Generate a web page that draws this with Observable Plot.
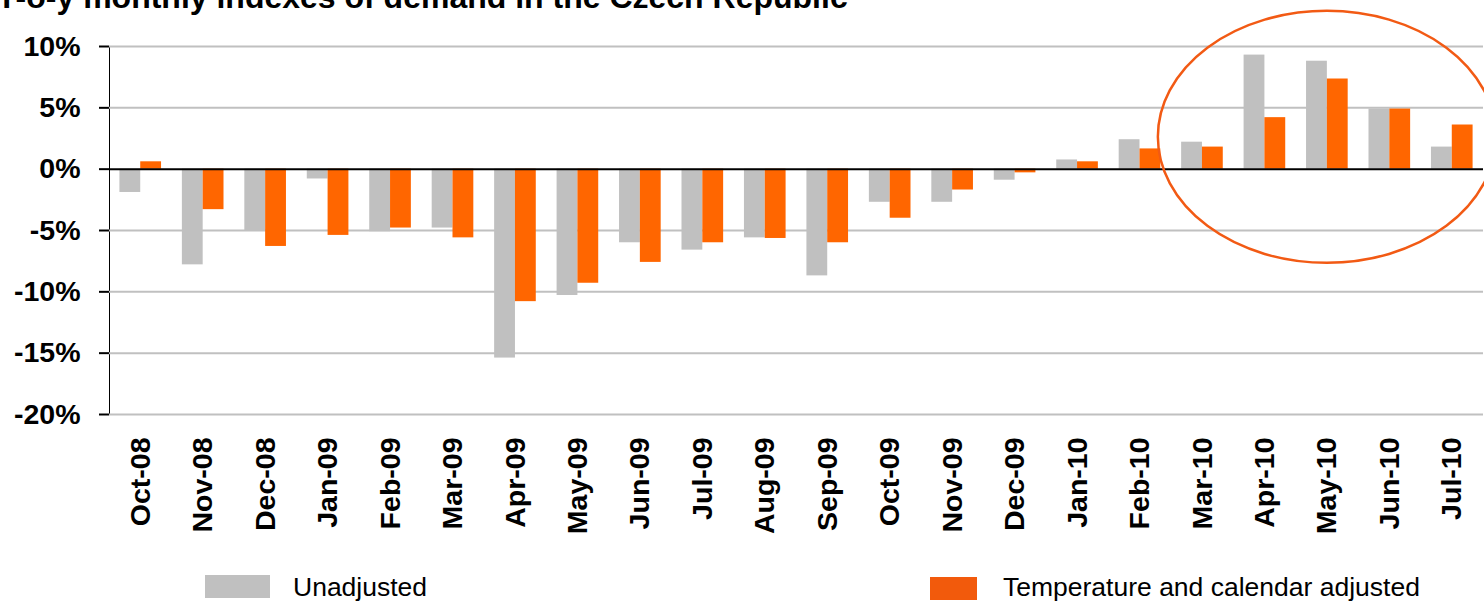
<!DOCTYPE html>
<html><head><meta charset="utf-8">
<script src="https://cdn.jsdelivr.net/npm/d3@7"></script>
<script src="https://cdn.jsdelivr.net/npm/@observablehq/plot@0.6"></script>
<style>
body{margin:0;background:#fff;font-family:"Liberation Sans",Arial,sans-serif;}
#wrap{position:relative;width:1484px;height:604px;overflow:hidden;background:#fff;}
#title{position:absolute;left:-4px;top:-19px;font-size:32px;font-weight:bold;line-height:1;white-space:nowrap;color:#000}
#chart{position:absolute;left:0;top:0}
.leg{position:absolute;font-size:26.5px;line-height:1;white-space:nowrap;color:#000}
.sw{position:absolute}
</style></head><body>
<div id="wrap">
<div id="title">Y-o-y monthly indexes of demand in the Czech Republic</div>
<div id="chart"></div>
<div id="legend"></div>
</div>
<script>
const months = ["Oct-08","Nov-08","Dec-08","Jan-09","Feb-09","Mar-09","Apr-09","May-09","Jun-09","Jul-09","Aug-09","Sep-09","Oct-09","Nov-09","Dec-09","Jan-10","Feb-10","Mar-10","Apr-10","May-10","Jun-10","Jul-10"];
const unadjusted = [-1.9,-7.8,-5.0,-0.8,-5.1,-4.8,-15.4,-10.3,-6.0,-6.6,-5.6,-8.7,-2.7,-2.7,-0.9,0.75,2.4,2.2,9.3,8.8,4.9,1.8];
const adjusted   = [0.6,-3.3,-6.3,-5.4,-4.8,-5.6,-10.8,-9.3,-7.6,-6.0,-5.65,-6.0,-4.0,-1.7,-0.3,0.6,1.65,1.8,4.2,7.35,4.9,3.6];
const yTicks = [-20,-15,-10,-5,0,5,10];
const seriesNames = ["Unadjusted","Temperature and calendar adjusted"];
const highlightMonth = "May-10";
const highlightValue = 2.6;

const W = 1484, H = 560, ML = 109, MR = 1, MT = 46, MB = 146;
const step = (W - ML - MR) / months.length;
const grayColor = "#c0c0c0", orangeColor = "#ff6600", ringColor = "#f25a14";

const dataU = months.map((m, i) => ({month: m, value: unadjusted[i]}));
const dataA = months.map((m, i) => ({month: m, value: adjusted[i]}));

const ellipseMark = (index, scales) => {
  const bw = typeof scales.x.bandwidth === "function" ? scales.x.bandwidth() : (scales.x.bandwidth || 0);
  const cx = scales.x(highlightMonth) + bw / 2;
  const cy = scales.y(highlightValue);
  const e = document.createElementNS("http://www.w3.org/2000/svg", "ellipse");
  e.setAttribute("cx", cx); e.setAttribute("cy", cy);
  e.setAttribute("rx", 169); e.setAttribute("ry", 126);
  e.setAttribute("fill", "none"); e.setAttribute("stroke", ringColor); e.setAttribute("stroke-width", 2.5);
  return e;
};

const chart = Plot.plot({
  width: W, height: H,
  marginLeft: ML, marginRight: MR, marginTop: MT, marginBottom: MB,
  style: {fontFamily: "Liberation Sans, Arial, sans-serif", fontSize: "28.5px", fontWeight: "bold", color: "#000", background: "transparent"},
  x: {type: "band", domain: months, padding: 0, round: false, tickSize: 0, tickRotate: -90, tickPadding: 23, label: null},
  y: {domain: [-20, 10], ticks: yTicks, tickFormat: d => d + "%", tickSize: 10, tickPadding: 19, line: true, label: null},
  marks: [
    Plot.ruleY(yTicks.filter(d => d !== 0), {stroke: grayColor, strokeWidth: 2}),
    Plot.barY(dataU, {x: "month", y: "value", fill: grayColor, insetLeft: step / 6, insetRight: step / 2}),
    Plot.barY(dataA, {x: "month", y: "value", fill: orangeColor, insetLeft: step / 2, insetRight: step / 6}),
    Plot.ruleY([0], {stroke: "#000", strokeWidth: 2}),
    ellipseMark
  ]
});
chart.querySelectorAll('[aria-label="y-axis tick"] path, [aria-label="y-axis tick"] line, [aria-label="y-axis line"] line, [aria-label="y-axis line"] path').forEach(el => el.setAttribute("stroke-width", 2));
document.getElementById("chart").appendChild(chart);

const legend = document.getElementById("legend");
const legendItems = [
  {name: seriesNames[0], color: grayColor, sx: 205, sy: 575, sw: 65, sh: 23, tx: 293},
  {name: seriesNames[1], color: "#f25a0c", sx: 930, sy: 577, sw: 47, sh: 23, tx: 1003}
];
legendItems.forEach(it => {
  const s = document.createElement("div");
  s.className = "sw";
  Object.assign(s.style, {left: it.sx + "px", top: it.sy + "px", width: it.sw + "px", height: it.sh + "px", background: it.color});
  legend.appendChild(s);
  const t = document.createElement("div");
  t.className = "leg";
  t.textContent = it.name;
  Object.assign(t.style, {left: it.tx + "px", top: "574px"});
  legend.appendChild(t);
});
</script>
</body></html>
